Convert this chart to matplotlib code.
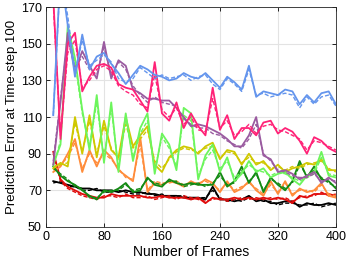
import matplotlib.pyplot as plt
import numpy as np

plt.rcParams['font.family'] = ['Liberation Sans', 'DejaVu Sans']

# Frame counts (x axis)
frames = list(range(10, 401, 10))

# Prediction error per method: solid = one run, dashed = second run
blue = [111, 190, 160, 132, 155, 136, 143, 145, 139, 134, 128, 133, 138, 136, 133, 132, 130, 131, 134, 132,
        131, 134, 130, 126, 132, 129, 125, 138, 121, 124, 123, 122, 125, 124, 117, 122, 118, 123, 124, 117]
blue_d = [111, 188, 165, 135, 152, 138, 141, 144, 140, 131, 129, 131, 137, 134, 131, 133, 131, 132, 133, 130,
          132, 133, 128, 125, 131, 128, 124, 136, 122, 123, 121, 122, 123, 122, 115, 121, 117, 121, 122, 116]

pink = [175, 98, 150, 156, 124, 132, 138, 139, 137, 128, 126, 125, 119, 113, 140, 112, 108, 118, 104, 112,
        105, 100, 126, 103, 111, 98, 104, 104, 100, 107, 108, 101, 104, 102, 97, 90, 99, 97, 93, 91]
pink_d = [172, 100, 145, 152, 126, 130, 136, 138, 135, 127, 124, 122, 117, 115, 133, 114, 110, 115, 106, 110,
          103, 102, 120, 104, 108, 100, 102, 106, 101, 105, 106, 103, 102, 100, 98, 92, 97, 96, 94, 92]

purple = [84, 118, 156, 135, 146, 138, 131, 151, 131, 141, 138, 125, 123, 120, 120, 119, 119, 115, 110, 105,
          106, 105, 103, 101, 98, 94, 94, 100, 110, 89, 87, 80, 81, 79, 76, 78, 80, 74, 77, 74]
purple_d = [86, 120, 152, 137, 143, 136, 133, 148, 133, 140, 136, 127, 122, 118, 121, 118, 117, 116, 109, 106,
            104, 104, 101, 100, 97, 95, 93, 98, 106, 90, 86, 81, 80, 78, 77, 77, 79, 75, 76, 75]

lgreen = [84, 95, 160, 142, 114, 92, 122, 85, 118, 80, 112, 86, 104, 112, 79, 101, 95, 81, 115, 112,
          76, 89, 95, 80, 88, 75, 79, 86, 80, 82, 77, 79, 80, 76, 73, 78, 80, 91, 78, 77]
lgreen_d = [83, 97, 155, 140, 112, 94, 118, 87, 115, 82, 110, 88, 101, 108, 81, 99, 93, 83, 111, 108,
            78, 87, 92, 82, 86, 77, 80, 84, 81, 80, 78, 80, 79, 77, 75, 77, 79, 88, 79, 78]

yellow = [82, 85, 83, 110, 90, 111, 88, 108, 92, 88, 110, 94, 100, 105, 84, 80, 88, 92, 94, 93,
          90, 94, 96, 87, 92, 91, 84, 90, 84, 86, 81, 84, 80, 82, 83, 85, 84, 87, 81, 81]
yellow_d = [83, 84, 85, 107, 91, 108, 90, 105, 93, 87, 106, 93, 98, 103, 86, 82, 87, 91, 93, 92,
            91, 93, 94, 88, 91, 90, 85, 88, 85, 85, 82, 83, 81, 83, 82, 84, 85, 86, 82, 80]

orange = [80, 83, 90, 98, 80, 92, 83, 92, 88, 81, 78, 75, 99, 69, 74, 73, 75, 74, 72, 75,
          73, 76, 74, 69, 75, 69, 71, 75, 70, 67, 75, 68, 75, 67, 71, 69, 70, 74, 67, 66]
orange_d = [81, 84, 88, 96, 82, 90, 85, 90, 87, 82, 77, 76, 95, 70, 75, 74, 74, 75, 73, 74,
            74, 75, 73, 70, 74, 70, 72, 74, 71, 68, 73, 69, 74, 68, 70, 70, 69, 73, 68, 67]

dgreen = [83, 78, 75, 73, 70, 67, 65, 70, 69, 71, 74, 69, 70, 77, 73, 72, 76, 74, 73, 74,
          73, 73, 73, 80, 72, 75, 83, 74, 80, 69, 77, 73, 70, 75, 86, 77, 83, 76, 75, 71]
dgreen_d = [82, 79, 76, 72, 71, 66, 66, 69, 70, 70, 73, 70, 71, 76, 74, 73, 75, 75, 72, 73,
            74, 72, 74, 78, 73, 74, 81, 75, 79, 70, 76, 74, 71, 74, 84, 78, 81, 77, 74, 72]

red = [91, 76, 72, 70, 68, 67, 66, 66, 68, 67, 67, 67, 67, 66, 66, 67, 66, 66, 66, 65,
       66, 63, 66, 65, 65, 66, 65, 66, 65, 66, 65, 66, 65, 63, 67, 66, 68, 68, 68, 67]
red_d = [90, 75, 71, 69, 67, 66, 65, 67, 67, 66, 68, 66, 66, 67, 65, 66, 67, 65, 67, 66,
         65, 64, 65, 66, 64, 65, 66, 65, 66, 65, 66, 65, 66, 64, 66, 67, 67, 69, 67, 68]

black = [75, 74, 73, 72, 71, 71, 70, 70, 70, 69, 70, 69, 69, 68, 68, 67, 67, 67, 66, 66,
         66, 65, 72, 65, 65, 64, 65, 67, 64, 65, 63, 63, 64, 64, 61, 63, 62, 62, 63, 62]
black_d = [74, 75, 72, 72, 70, 70, 71, 69, 69, 70, 69, 68, 68, 69, 67, 68, 66, 67, 67, 65,
           66, 66, 70, 66, 64, 65, 64, 66, 65, 64, 64, 62, 63, 63, 62, 62, 63, 61, 62, 63]

colors = {
    "blue": "#6495ED",
    "pink": "#FF2277",
    "purple": "#9A5BA0",
    "lgreen": "#6CF55C",
    "yellow": "#CFC800",
    "orange": "#FF8C3A",
    "dgreen": "#138A13",
    "red": "#E00B0B",
    "black": "#000000",
}

series = [
    ("black", black, black_d),
    ("red", red, red_d),
    ("orange", orange, orange_d),
    ("dgreen", dgreen, dgreen_d),
    ("yellow", yellow, yellow_d),
    ("lgreen", lgreen, lgreen_d),
    ("purple", purple, purple_d),
    ("pink", pink, pink_d),
    ("blue", blue, blue_d),
]

fig = plt.figure(figsize=(3.47, 2.63), dpi=100)
ax = fig.add_axes([0.1326, 0.137, 0.8354, 0.836])

for name, solid, dashed in series:
    c = colors[name]
    ax.plot(frames, dashed, color=c, linewidth=1.0, linestyle=(0, (3, 1.5)))
    ax.plot(frames, solid, color=c, linewidth=1.3)

ax.set_xlim(0, 400)
ax.set_ylim(50, 170)
ax.set_xticks(np.arange(0, 401, 80))
ax.set_yticks(np.arange(50, 171, 20))
ax.grid(True, color="#e3e3e3", linewidth=0.8)
ax.set_axisbelow(True)
ax.tick_params(direction="in", length=3, top=True, right=True, labelsize=9, width=0.6, pad=3)
for s in ax.spines.values():
    s.set_linewidth(0.6)
    s.set_color("#262626")

ax.set_xlabel("Number of Frames", fontsize=10, labelpad=1)
ax.set_ylabel("Prediction Error at Time-step 100", fontsize=9.5, labelpad=2)

fig.savefig("out.png", dpi=100)
